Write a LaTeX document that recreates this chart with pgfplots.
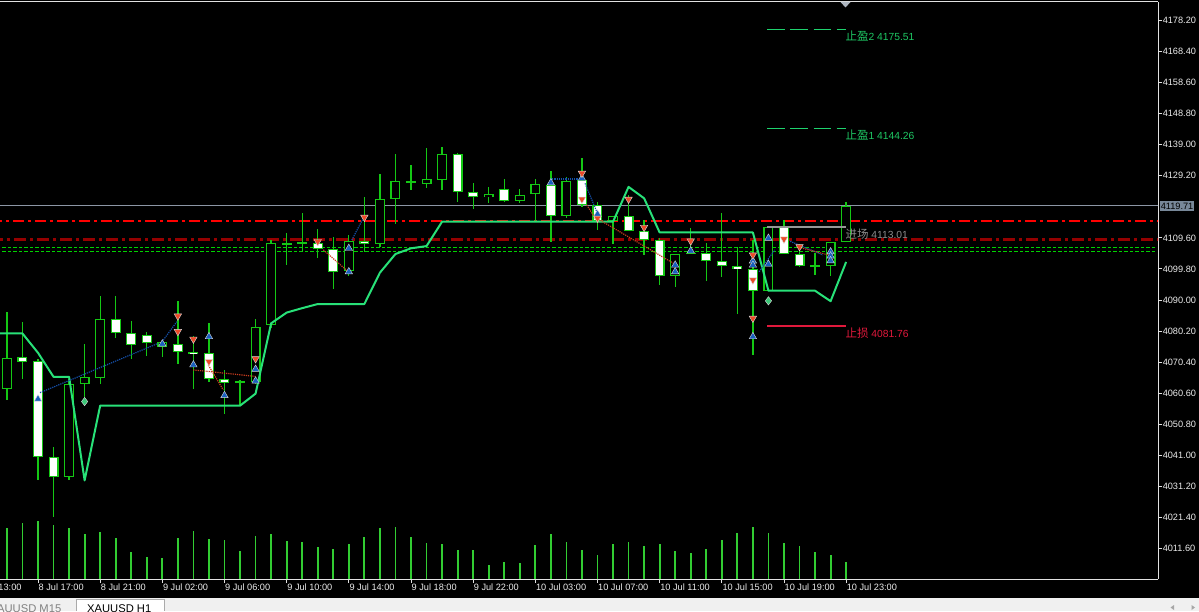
\documentclass[border=0pt]{standalone}
\usepackage{fontspec}
\setmainfont{Liberation Sans}
\newfontfamily\cjk{Noto Sans CJK SC}
\usepackage{pgfplots}
\usepackage{pgfplotstable}
\pgfplotsset{compat=1.18}

\definecolor{cgreen}{RGB}{20,200,20}
\definecolor{volgreen}{RGB}{50,205,50}
\definecolor{trail}{RGB}{40,225,120}
\definecolor{framec}{RGB}{225,225,225}
\definecolor{fg}{RGB}{235,235,235}
\definecolor{bidc}{RGB}{140,150,165}
\definecolor{bidbox}{RGB}{120,136,153}
\definecolor{ddred}{RGB}{150,0,0}
\definecolor{lred}{RGB}{255,0,0}
\definecolor{dgreen}{RGB}{0,210,0}
\definecolor{tpgreen}{RGB}{30,210,110}
\definecolor{tptext}{RGB}{30,200,100}
\definecolor{entryc}{RGB}{150,150,150}
\definecolor{entryt}{RGB}{140,140,140}
\definecolor{slc}{RGB}{225,25,60}
\definecolor{mblue}{RGB}{25,95,190}
\definecolor{mred}{RGB}{235,75,40}
\definecolor{mgreen}{RGB}{60,200,120}
\definecolor{dotblue}{RGB}{20,80,170}
\definecolor{dotred}{RGB}{200,60,30}
\definecolor{tabbg}{RGB}{240,240,240}
\definecolor{tabline}{RGB}{170,170,170}

\newcommand\fs{\fontsize{9.2}{10}\selectfont}

% bar index, open, high, low, close, tick volume
\pgfplotstableread{
i o h l c v
-2 4062.0 4086.2 4058.5 4071.8 5070
-1 4072.1 4082.9 4065.0 4070.5 5630
0 4070.6 4071.3 4033.1 4040.5 5830
1 4040.5 4043.4 4021.4 4034.1 5430
2 4034.1 4065.0 4033.0 4063.6 5070
3 4063.6 4076.2 4059.4 4065.7 4500
4 4065.4 4091.2 4063.6 4084.1 4700
5 4084.1 4091.2 4078.1 4079.7 4100
6 4079.7 4083.2 4071.2 4075.8 2730
7 4079.0 4079.9 4072.2 4076.4 2230
8 4075.1 4077.3 4071.9 4076.6 2130
9 4076.2 4089.7 4069.9 4073.6 4100
10 4073.7 4078.5 4062.0 4072.8 4800
11 4073.1 4082.6 4064.1 4064.9 4000
12 4064.9 4068.0 4054.1 4063.9 3900
13 4063.9 4064.6 4056.7 4064.3 2830
14 4064.1 4084.1 4063.6 4081.6 4300
15 4082.0 4108.9 4081.1 4107.9 4500
16 4107.5 4111.0 4101.0 4107.8 3830
17 4107.7 4117.5 4105.2 4108.1 3700
18 4108.0 4112.3 4103.1 4106.1 3200
19 4106.1 4109.9 4093.6 4098.8 3030
20 4099.2 4110.5 4097.5 4108.7 3500
21 4108.7 4122.4 4105.2 4107.8 4200
22 4107.6 4129.7 4106.6 4121.8 5070
23 4121.8 4136.1 4113.9 4127.6 5170
24 4127.6 4132.6 4124.7 4127.0 4200
25 4126.6 4137.9 4125.2 4128.1 3600
26 4127.9 4138.2 4124.7 4136.0 3500
27 4136.0 4136.3 4121.0 4124.2 2900
28 4124.2 4126.8 4118.6 4122.4 2900
29 4122.4 4125.7 4120.5 4123.4 1400
30 4125.2 4128.1 4120.9 4121.4 1670
31 4121.4 4124.9 4120.7 4123.3 1570
32 4123.3 4128.1 4114.7 4126.5 3400
33 4126.3 4130.8 4108.4 4116.5 4500
34 4116.5 4128.9 4115.8 4127.6 3700
35 4127.9 4134.7 4119.4 4119.9 2900
36 4119.9 4121.0 4112.0 4114.9 2400
37 4114.9 4116.5 4107.8 4116.5 3500
38 4116.6 4123.1 4111.7 4111.7 3700
39 4111.8 4115.2 4104.1 4108.9 3300
40 4108.9 4109.7 4094.7 4097.5 3500
41 4097.5 4104.4 4094.1 4104.4 2800
42 4104.5 4112.6 4104.5 4104.9 2630
43 4104.7 4108.0 4096.0 4102.2 3000
44 4102.2 4117.3 4097.3 4100.7 3900
45 4100.7 4106.6 4085.7 4099.7 4570
46 4099.7 4108.8 4072.5 4092.8 5170
47 4092.8 4112.9 4092.8 4112.9 4570
48 4112.9 4115.4 4104.4 4104.4 3600
49 4104.4 4107.8 4100.3 4100.7 3300
50 4100.6 4104.7 4097.8 4101.0 2730
51 4100.8 4108.4 4097.5 4108.4 2400
52 4108.4 4121.0 4108.4 4119.71 1670
}\ohlc

% trailing stop line
\pgfplotstableread{
i t
-2.6 4079.4
-1 4079.4
0 4073.3
1 4065.7
2 4065.7
3 4033.0
4 4056.6
13 4056.6
14 4060.4
15 4082.6
16 4086.0
17 4087.4
18 4088.7
21 4088.7
22 4098.6
23 4104.5
24 4106.3
25 4107.0
26 4114.7
37 4114.7
38 4125.7
39 4122.1
40 4111.3
46 4111.3
47 4092.9
50 4092.9
51 4089.6
52 4102.0
}\trail

\begin{document}
\begin{tikzpicture}[x=1pt,y=1pt]
\useasboundingbox (0,0) rectangle (1199,611);
\clip (0,0) rectangle (1199,611);
\fill[black] (0,0) rectangle (1199,611);
\fill[tabbg] (0,0) rectangle (1199,12.7);

% volume
\begin{axis}[at={(0pt,32pt)}, anchor=south west, scale only axis,
  width=1158pt, height=577pt, xmin=-2.445, xmax=72.07, ymin=0, ymax=57700,
  hide axis]
\addplot[ycomb, draw=volgreen, line width=1.8pt, mark=none] table[x=i,y=v]{\ohlc};
\end{axis}

\begin{axis}[at={(0pt,32pt)}, anchor=south west, scale only axis,
  width=1158pt, height=577pt,
  xmin=-2.445, xmax=72.07, ymin=4001.85, ymax=4184.10,
  axis x line=bottom, axis y line=right,
  axis line style={-, draw=framec, line width=1pt},
  tick align=outside, major tick length=4pt,
  tick style={draw=framec, line width=0.8pt},
  xtick={0,4,...,52},
  xticklabels={{8 Jul 17:00},{8 Jul 21:00},{9 Jul 02:00},{9 Jul 06:00},{9 Jul 10:00},{9 Jul 14:00},{9 Jul 18:00},{9 Jul 22:00},{10 Jul 03:00},{10 Jul 07:00},{10 Jul 11:00},{10 Jul 15:00},{10 Jul 19:00},{10 Jul 23:00}},
  xticklabel style={font=\fs, text=fg, anchor=north west, inner sep=0pt, xshift=0.5pt, yshift=-1pt},
  ytick={4011.6,4021.4,4031.2,4041.0,4050.8,4060.6,4070.4,4080.2,4090.0,4099.8,4109.6,4129.2,4139.0,4148.8,4158.6,4168.4,4178.2},
  yticklabel style={font=\fs, text=fg, anchor=west, inner sep=0pt, xshift=0.5pt,
    /pgf/number format/.cd, fixed, fixed zerofill, precision=2, 1000 sep={}, assume math mode=true},
]
% horizontal object lines
\addplot[color=bidc, line width=1pt] coordinates {(-3,4119.71) (73,4119.71)};
\addplot[color=ddred, line width=2.4pt, dash pattern=on 12pt off 4pt on 3pt off 4pt] coordinates {(-3,4109.1) (73,4109.1)};
\addplot[color=dgreen, line width=1.5pt, dash pattern=on 3.5pt off 2pt] coordinates {(-3,4106.6) (71.9,4106.6)};
\addplot[color=dgreen, line width=1.5pt, dash pattern=on 3.5pt off 2pt] coordinates {(-3,4105.3) (71.9,4105.3)};
\addplot[color=lred, line width=2pt, dash pattern=on 11pt off 4pt on 3pt off 4pt] coordinates {(-3,4114.77) (73,4114.77)};

% wicks
\addplot[draw=none, mark=none, error bars/.cd, y dir=both, y explicit, error mark=none,
  error bar style={draw=cgreen, line width=1.3pt}]
  table[x=i, y expr={(\thisrow{h}+\thisrow{l})/2}, y error expr={(\thisrow{h}-\thisrow{l})/2}]{\ohlc};
% body outline
\addplot[draw=none, mark=none, error bars/.cd, y dir=both, y explicit, error mark=none,
  error bar style={draw=cgreen, line width=10pt}]
  table[x=i, y expr={(\thisrow{o}+\thisrow{c})/2}, y error expr={max(abs(\thisrow{o}-\thisrow{c})/2,0.24)}]{\ohlc};
% bull interior (black)
\addplot[draw=none, mark=none, error bars/.cd, y dir=both, y explicit, error mark=none,
  error bar style={draw=black, line width=7.6pt}]
  table[x=i, y expr={(\thisrow{o}+\thisrow{c})/2}, y error expr={max(abs(\thisrow{o}-\thisrow{c})/2-0.32,0)}]{\ohlc};
% bear interior (white)
\addplot[draw=none, mark=none, error bars/.cd, y dir=both, y explicit, error mark=none,
  error bar style={draw=white, line width=7.6pt}]
  table[x=i, y expr={(\thisrow{o}+\thisrow{c})/2}, y error expr={(\thisrow{o}>\thisrow{c})*max(abs(\thisrow{o}-\thisrow{c})/2-0.32,0)}]{\ohlc};

% trailing line
\addplot[trail, line width=2pt, line join=round] table[x=i,y=t]{\trail};

% trade history dotted lines
\addplot[dotblue, line width=1.2pt, densely dotted] coordinates {(0.13,4060.7) (7.74,4076.3)};
\addplot[dotblue, line width=1.2pt, densely dotted] coordinates {(8.06,4077.3) (8.93,4083.1)};
\addplot[dotblue, line width=1.2pt, densely dotted] coordinates {(20.19,4108.9) (20.93,4115.8)};
\addplot[dotblue, line width=1.2pt, densely dotted] coordinates {(32.95,4128.2) (34.99,4128.2)};
\addplot[dotblue, line width=1.2pt, densely dotted] coordinates {(35.2,4126.8) (35.95,4117.9)};
\addplot[dotblue, line width=1.2pt, densely dotted] coordinates {(46.4,4098.9) (47.4,4105.8)};
\addplot[dotblue, line width=1.2pt, densely dotted] coordinates {(48.4,4108.5) (50.5,4104.2)};
\addplot[dotred, line width=1.2pt, densely dotted] coordinates {(9.99,4067.9) (14.07,4065.8)};
\addplot[dotred, line width=1.2pt, densely dotted] coordinates {(10.96,4069.4) (11.92,4061.6)};
\addplot[dotred, line width=1.2pt, densely dotted] coordinates {(18.36,4105.8) (19.97,4098.9)};
\addplot[dotred, line width=1.2pt, densely dotted] coordinates {(35.31,4120.0) (36.06,4114.2)};
\addplot[dotred, line width=1.2pt, densely dotted] coordinates {(35.95,4115.8) (40.88,4101.6)};
\addplot[dotred, line width=1.2pt, densely dotted] coordinates {(48.82,4106.8) (50.86,4104.2)};

% trade arrows
\addplot[only marks, mark=triangle*, mark size=4.3pt, mark options={fill=mblue, draw=white!85!black, line width=0.4pt}]
  coordinates {(0,4058.7) (8,4076.1) (10,4069.5) (11,4078.4) (12,4059.8) (14,4068.1) (14,4064.4)
  (20,4106.3) (20,4098.9) (33,4127.0) (35,4128.4) (36,4117.1) (41,4101.0) (41,4098.9) (42,4105.5)
  (46,4102.3) (46,4101.0) (46,4078.4) (47,4109.5) (47,4101.3) (51,4105.2) (51,4103.9) (51,4102.4)};
\addplot[only marks, mark=triangle*, mark size=4.3pt, mark options={rotate=180, fill=mred, draw=white!85!black, line width=0.4pt}]
  coordinates {(9,4084.9) (9,4080.0) (10,4077.6) (11,4070.5) (14,4071.4) (18,4108.4) (21,4116.1)
  (35,4130.0) (35,4121.8) (36,4115.8) (38,4121.8) (39,4112.9) (42,4108.6) (46,4104.2) (46,4096.3)
  (46,4084.2) (48,4109.2) (49,4106.8)};
\addplot[only marks, mark=diamond*, mark size=4.2pt, mark options={fill=mgreen, draw=white!85!black, line width=0.4pt}]
  coordinates {(3,4057.9) (47,4089.7)};

% order levels
\addplot[tpgreen, line width=1.2pt, dash pattern=on 17.5pt off 5.6pt] coordinates {(46.93,4175.51) (52,4175.51)};
\addplot[tpgreen, line width=1.2pt, dash pattern=on 17.5pt off 5.6pt] coordinates {(46.93,4144.26) (52,4144.26)};
\addplot[entryc, line width=1.6pt] coordinates {(46.93,4113.01) (52,4113.01)};
\addplot[slc, line width=1.8pt] coordinates {(46.93,4081.76) (52,4081.76)};

\node[anchor=north west, inner sep=0pt, text=tptext] at (axis cs:51.95,4174.9)
  {{\cjk\fontsize{11.5}{12}\selectfont 止盈}\fontsize{10.3}{12}\selectfont 2 4175.51};
\node[anchor=north west, inner sep=0pt, text=tptext] at (axis cs:51.95,4143.65)
  {{\cjk\fontsize{11.5}{12}\selectfont 止盈}\fontsize{10.3}{12}\selectfont 1 4144.26};
\node[anchor=north west, inner sep=0pt, text=entryt] at (axis cs:51.95,4112.4)
  {{\cjk\fontsize{11.5}{12}\selectfont 进场}\fontsize{10.3}{12}\selectfont\ 4113.01};
\node[anchor=north west, inner sep=0pt, text=slc] at (axis cs:51.95,4081.15)
  {{\cjk\fontsize{11.5}{12}\selectfont 止损}\fontsize{10.3}{12}\selectfont\ 4081.76};

\coordinate (bidR) at (axis cs:72.07,4119.71);
\end{axis}

% top frame line
\draw[framec, line width=1pt] (0,609) -- (1158,609);
% shift marker
\fill[bidc!70!white] (840.5,609) -- (850.5,609) -- (845.5,603.5) -- cycle;
% bid price box
\node[anchor=west, fill=bidbox, text=black, inner sep=1pt, minimum height=10pt, font=\fs, xshift=1.5pt] at (bidR) {4119.71};
% partially visible time label
\node[anchor=north west, inner sep=0pt, text=fg, font=\fs] at (-23.7,27) {8 Jul 13:00};

% tabs
\fill[tabbg] (0,0) rectangle (1199,12.7);
\node[anchor=base west, inner sep=0pt, text=gray, font=\fontsize{11.2}{12}\selectfont] at (-10.5,-1.8) {XAUUSD M15};
\fill[white] (76.7,0) rectangle (164,12);
\draw[tabline, line width=0.8pt] (76.7,0) -- (76.7,12) -- (164,12) -- (164,0);
\node[anchor=base west, inner sep=0pt, text=black, font=\fontsize{11.2}{12}\selectfont] at (87,-1.8) {XAUUSD H1};
\fill[gray!70] (1174,1) -- (1174,6) -- (1170.5,3.5) -- cycle;
\fill[gray!70] (1191.5,1) -- (1191.5,6) -- (1195,3.5) -- cycle;
\end{tikzpicture}
\end{document}
